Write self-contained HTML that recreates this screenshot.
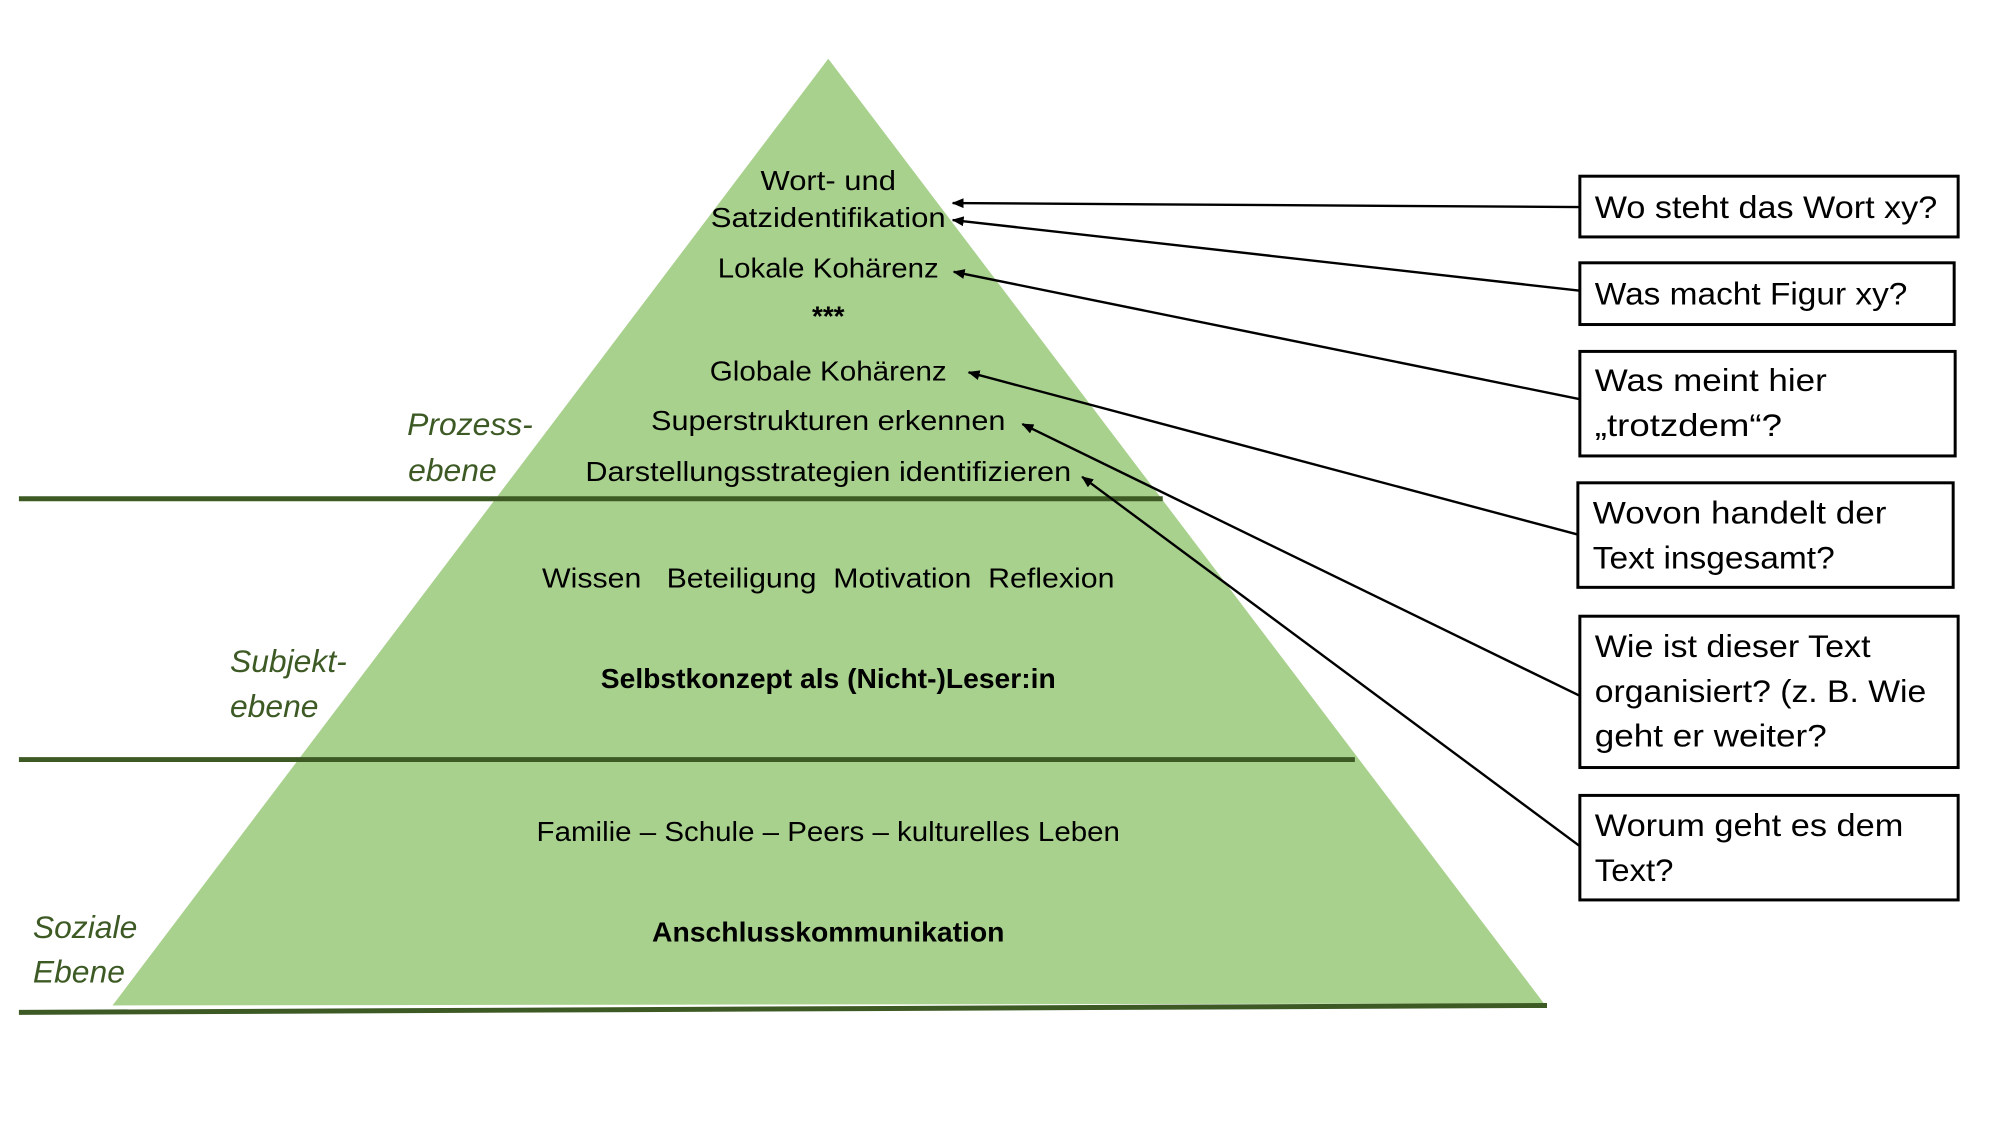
<!DOCTYPE html>
<html><head><meta charset="utf-8"><style>html,body{margin:0;padding:0;background:#fff}svg{display:block}</style></head>
<body>
<svg width="2000" height="1125" viewBox="0 0 2000 1125" xmlns="http://www.w3.org/2000/svg" font-family="Liberation Sans, sans-serif">
<defs><marker id="a" markerWidth="12" markerHeight="10" refX="11" refY="5" orient="auto" markerUnits="userSpaceOnUse"><path d="M0,0 L12,5 L0,10 z" fill="#000"/></marker></defs>
<g transform="scale(0.9955)">
<polygon points="832,59 1551,1008 113,1010" fill="#a9d18e"/>
<g stroke="#3d5a25" stroke-width="5">
<line x1="19" y1="501" x2="1168" y2="501"/>
<line x1="19" y1="763" x2="1361" y2="763"/>
<line x1="19" y1="1017" x2="1554" y2="1010"/>
</g>
<g font-size="28" fill="#000" text-anchor="middle">
<text x="832" y="191" textLength="136" lengthAdjust="spacingAndGlyphs">Wort- und</text>
<text x="832" y="228" textLength="236" lengthAdjust="spacingAndGlyphs">Satzidentifikation</text>
<text x="832" y="279" textLength="222" lengthAdjust="spacingAndGlyphs">Lokale Kohärenz</text>
<text x="832" y="327" font-weight="bold">***</text>
<text x="832" y="382" textLength="238" lengthAdjust="spacingAndGlyphs">Globale Kohärenz</text>
<text x="832" y="432" textLength="356" lengthAdjust="spacingAndGlyphs">Superstrukturen erkennen</text>
<text x="832" y="483" textLength="488" lengthAdjust="spacingAndGlyphs">Darstellungsstrategien identifizieren</text>
<text x="832" y="590" textLength="575" lengthAdjust="spacingAndGlyphs" xml:space="preserve">Wissen   Beteiligung  Motivation  Reflexion</text>
<text x="832" y="691" font-weight="bold" textLength="457" lengthAdjust="spacingAndGlyphs">Selbstkonzept als (Nicht-)Leser:in</text>
<text x="832" y="845" textLength="586" lengthAdjust="spacingAndGlyphs">Familie – Schule – Peers – kulturelles Leben</text>
<text x="832" y="946" font-weight="bold" textLength="354" lengthAdjust="spacingAndGlyphs">Anschlusskommunikation</text>
</g>
<g font-size="32" fill="#3d5a25" font-style="italic">
<text x="409" y="437">Prozess-</text>
<text x="410" y="483">ebene</text>
<text x="231" y="675">Subjekt-</text>
<text x="231" y="720">ebene</text>
<text x="33" y="942">Soziale</text>
<text x="33" y="987">Ebene</text>
</g>
<g fill="#fff" stroke="#000" stroke-width="3">
<rect x="1587" y="177" width="380" height="61"/>
<rect x="1587" y="264" width="376" height="62"/>
<rect x="1587" y="353" width="377" height="105"/>
<rect x="1585" y="485" width="377" height="105"/>
<rect x="1587" y="619" width="380" height="152"/>
<rect x="1587" y="799" width="380" height="105"/>
</g>
<g stroke="#000" stroke-width="2.4" marker-end="url(#a)">
<line x1="1587" y1="208" x2="957" y2="204"/>
<line x1="1587" y1="292" x2="957" y2="221"/>
<line x1="1587" y1="401" x2="958" y2="273"/>
<line x1="1585" y1="537" x2="973" y2="374"/>
<line x1="1587" y1="699" x2="1027" y2="426"/>
<line x1="1587" y1="850" x2="1087" y2="479"/>
</g>
<g font-size="32" fill="#000">
<text x="1602" y="219" textLength="344" lengthAdjust="spacingAndGlyphs">Wo steht das Wort xy?</text>
<text x="1602" y="306" textLength="314" lengthAdjust="spacingAndGlyphs">Was macht Figur xy?</text>
<text x="1602" y="393" textLength="233" lengthAdjust="spacingAndGlyphs">Was meint hier</text>
<text x="1602" y="438" textLength="188" lengthAdjust="spacingAndGlyphs">„trotzdem“?</text>
<text x="1600" y="526" textLength="295" lengthAdjust="spacingAndGlyphs">Wovon handelt der</text>
<text x="1600" y="571" textLength="243" lengthAdjust="spacingAndGlyphs">Text insgesamt?</text>
<text x="1602" y="660" textLength="277" lengthAdjust="spacingAndGlyphs">Wie ist dieser Text</text>
<text x="1602" y="705" textLength="333" lengthAdjust="spacingAndGlyphs">organisiert? (z. B. Wie</text>
<text x="1602" y="750" textLength="233" lengthAdjust="spacingAndGlyphs">geht er weiter?</text>
<text x="1602" y="840" textLength="310" lengthAdjust="spacingAndGlyphs">Worum geht es dem</text>
<text x="1602" y="885" textLength="79" lengthAdjust="spacingAndGlyphs">Text?</text>
</g>
</g>
</svg>
</body></html>
